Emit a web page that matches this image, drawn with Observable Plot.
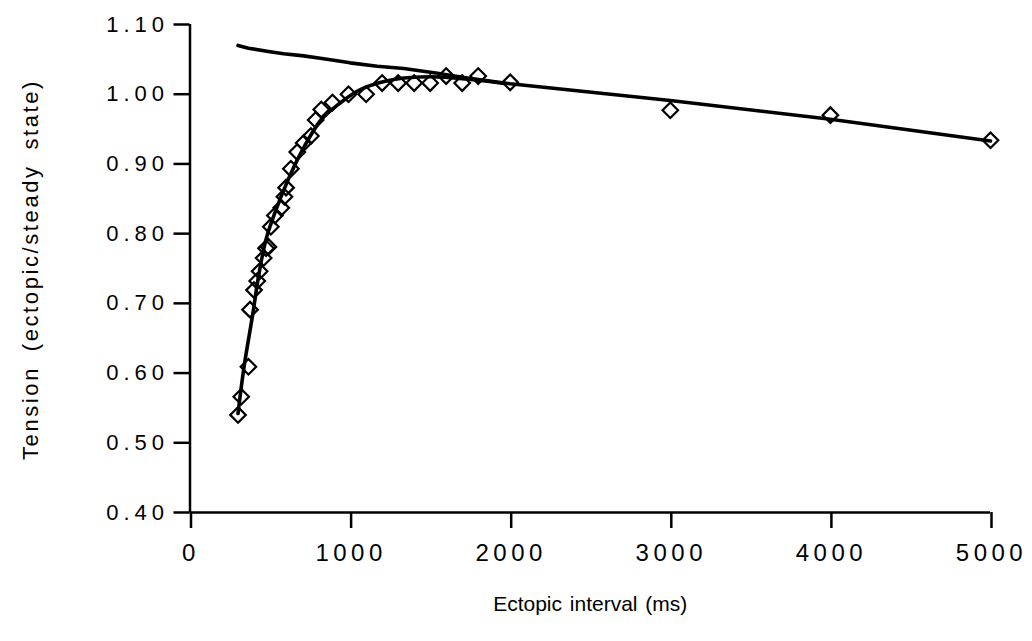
<!DOCTYPE html>
<html><head><meta charset="utf-8">
<script src="https://cdn.jsdelivr.net/npm/d3@7"></script>
<script src="https://cdn.jsdelivr.net/npm/@observablehq/plot@0.6"></script>
<style>
html,body{margin:0;padding:0;background:#fff;}
#chart svg{display:block;}
#chart g[aria-label="x-axis tick label"] text{letter-spacing:4.5px;}
#chart g[aria-label="y-axis tick label"] text{letter-spacing:5px;}
#chart .xtitle text{word-spacing:2px;}
#chart .ytitle text{letter-spacing:2.6px;word-spacing:6px;}
</style></head><body><div id="chart"></div>
<script>
// Observed points (ectopic interval ms, tension ratio)
const obsX = [300, 320, 365, 375, 400, 420, 435, 460, 475, 490, 505, 530, 570, 590, 600, 630, 670, 710, 755, 785, 820, 890, 990, 1100, 1200, 1300, 1400, 1500, 1600, 1700, 1800, 2000, 3000, 4000, 5000];
const obsY = [0.54, 0.566, 0.609, 0.691, 0.719, 0.732, 0.746, 0.765, 0.779, 0.781, 0.81, 0.826, 0.837, 0.853, 0.866, 0.893, 0.917, 0.93, 0.94, 0.963, 0.978, 0.988, 1.0, 1.0, 1.016, 1.016, 1.016, 1.016, 1.026, 1.016, 1.026, 1.017, 0.977, 0.97, 0.934];

// Fitted rising curve
const fitX = [300, 337, 393, 424, 474, 537, 612, 693, 818, 924, 1067, 1273, 1504, 1754, 1973];
const fitY = [0.542, 0.608, 0.686, 0.733, 0.791, 0.834, 0.877, 0.916, 0.963, 0.985, 1.007, 1.021, 1.025, 1.021, 1.015];

// Upper declining line
const lineX = [300, 365, 500, 585, 710, 835, 1000, 1170, 1335, 1545, 1710, 2000, 3000, 4000, 5000];
const lineY = [1.07, 1.066, 1.061, 1.058, 1.055, 1.051, 1.045, 1.040, 1.037, 1.030, 1.024, 1.015, 0.991, 0.964, 0.933];

const xTicks = [0, 1000, 2000, 3000, 4000, 5000];
const yTicks = [0.40, 0.50, 0.60, 0.70, 0.80, 0.90, 1.00, 1.10];
const xTitle = "Ectopic interval (ms)";
const yTitle = "Tension (ectopic/steady state)";

const obs = obsX.map((x, i) => ({x, y: obsY[i]}));
const fit = fitX.map((x, i) => ({x, y: fitY[i]}));
const upper = lineX.map((x, i) => ({x, y: lineY[i]}));

const chart = Plot.plot({
  width: 1032, height: 641,
  marginLeft: 189.5, marginRight: 42, marginTop: 24, marginBottom: 129,
  style: {fontFamily: "'Liberation Sans', Arial, Helvetica, sans-serif", fontSize: "20px", color: "#000", background: "#fff", overflow: "visible"},
  x: {domain: [0, 5000]},
  y: {domain: [0.4, 1.1]},
  marks: [
    Plot.axisX({ticks: xTicks, tickSize: 16, tickPadding: 15, tickFormat: d => String(d), label: null, strokeWidth: 2.5, fontSize: 24, dx: 1}),
    Plot.axisY({ticks: yTicks, tickSize: 16, tickPadding: 5, tickFormat: d => d.toFixed(2), label: null, strokeWidth: 2.5, fontSize: 22}),
    Plot.ruleX([0], {strokeWidth: 2.5}),
    Plot.ruleY([0.4], {strokeWidth: 2.5}),
    Plot.dot(obs, {x: "x", y: "y", symbol: "diamond2", r: 7, stroke: "#000", strokeWidth: 2.2, fill: "none"}),
    Plot.line(fit, {x: "x", y: "y", curve: "catmull-rom", strokeWidth: 3.6, stroke: "#000"}),
    Plot.line(upper, {x: "x", y: "y", curve: "linear", strokeWidth: 3.6, stroke: "#000"}),
    Plot.text([xTitle], {frameAnchor: "bottom", dy: 98, fontSize: 21, textAnchor: "middle", className: "xtitle", text: d => d}),
    Plot.text([yTitle], {frameAnchor: "left", dx: -159, dy: 1, rotate: -90, fontSize: 22, textAnchor: "middle", className: "ytitle", text: d => d})
  ]
});
document.getElementById("chart").appendChild(chart);
</script>
</body></html>
